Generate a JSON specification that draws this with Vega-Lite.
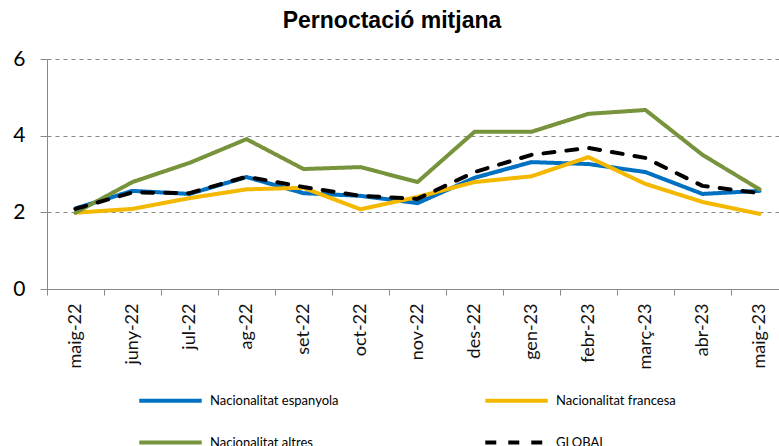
{
  "$schema": "https://vega.github.io/schema/vega-lite/v6.json",
  "width": 732,
  "height": 230,
  "autosize": "none",
  "padding": {"left": 47, "top": 59, "right": 0, "bottom": 157},
  "background": "white",
  "title": {"text": "Pernoctació mitjana", "font": "Liberation Sans", "fontSize": 23, "fontWeight": "bold", "color": "#000", "anchor": "middle", "frame": "group", "dx": -21, "offset": 15},
  "data": {"values": [
    {"mes": "maig-22", "serie": "Nacionalitat espanyola", "valor": 2.1},
    {"mes": "juny-22", "serie": "Nacionalitat espanyola", "valor": 2.56},
    {"mes": "jul-22", "serie": "Nacionalitat espanyola", "valor": 2.48},
    {"mes": "ag-22", "serie": "Nacionalitat espanyola", "valor": 2.92},
    {"mes": "set-22", "serie": "Nacionalitat espanyola", "valor": 2.5},
    {"mes": "oct-22", "serie": "Nacionalitat espanyola", "valor": 2.43},
    {"mes": "nov-22", "serie": "Nacionalitat espanyola", "valor": 2.24},
    {"mes": "des-22", "serie": "Nacionalitat espanyola", "valor": 2.9},
    {"mes": "gen-23", "serie": "Nacionalitat espanyola", "valor": 3.31},
    {"mes": "febr-23", "serie": "Nacionalitat espanyola", "valor": 3.26},
    {"mes": "març-23", "serie": "Nacionalitat espanyola", "valor": 3.05},
    {"mes": "abr-23", "serie": "Nacionalitat espanyola", "valor": 2.48},
    {"mes": "maig-23", "serie": "Nacionalitat espanyola", "valor": 2.56},
    {"mes": "maig-22", "serie": "Nacionalitat francesa", "valor": 1.99},
    {"mes": "juny-22", "serie": "Nacionalitat francesa", "valor": 2.09},
    {"mes": "jul-22", "serie": "Nacionalitat francesa", "valor": 2.37},
    {"mes": "ag-22", "serie": "Nacionalitat francesa", "valor": 2.6},
    {"mes": "set-22", "serie": "Nacionalitat francesa", "valor": 2.64},
    {"mes": "oct-22", "serie": "Nacionalitat francesa", "valor": 2.08},
    {"mes": "nov-22", "serie": "Nacionalitat francesa", "valor": 2.4},
    {"mes": "des-22", "serie": "Nacionalitat francesa", "valor": 2.79},
    {"mes": "gen-23", "serie": "Nacionalitat francesa", "valor": 2.94},
    {"mes": "febr-23", "serie": "Nacionalitat francesa", "valor": 3.44},
    {"mes": "març-23", "serie": "Nacionalitat francesa", "valor": 2.74},
    {"mes": "abr-23", "serie": "Nacionalitat francesa", "valor": 2.27},
    {"mes": "maig-23", "serie": "Nacionalitat francesa", "valor": 1.96},
    {"mes": "maig-22", "serie": "Nacionalitat altres", "valor": 1.99},
    {"mes": "juny-22", "serie": "Nacionalitat altres", "valor": 2.79},
    {"mes": "jul-22", "serie": "Nacionalitat altres", "valor": 3.29},
    {"mes": "ag-22", "serie": "Nacionalitat altres", "valor": 3.91},
    {"mes": "set-22", "serie": "Nacionalitat altres", "valor": 3.13},
    {"mes": "oct-22", "serie": "Nacionalitat altres", "valor": 3.18},
    {"mes": "nov-22", "serie": "Nacionalitat altres", "valor": 2.79},
    {"mes": "des-22", "serie": "Nacionalitat altres", "valor": 4.1},
    {"mes": "gen-23", "serie": "Nacionalitat altres", "valor": 4.1},
    {"mes": "febr-23", "serie": "Nacionalitat altres", "valor": 4.57},
    {"mes": "març-23", "serie": "Nacionalitat altres", "valor": 4.67},
    {"mes": "abr-23", "serie": "Nacionalitat altres", "valor": 3.5},
    {"mes": "maig-23", "serie": "Nacionalitat altres", "valor": 2.6},
    {"mes": "maig-22", "serie": "GLOBAL", "valor": 2.09},
    {"mes": "juny-22", "serie": "GLOBAL", "valor": 2.52},
    {"mes": "jul-22", "serie": "GLOBAL", "valor": 2.5},
    {"mes": "ag-22", "serie": "GLOBAL", "valor": 2.93},
    {"mes": "set-22", "serie": "GLOBAL", "valor": 2.66},
    {"mes": "oct-22", "serie": "GLOBAL", "valor": 2.43},
    {"mes": "nov-22", "serie": "GLOBAL", "valor": 2.35},
    {"mes": "des-22", "serie": "GLOBAL", "valor": 3.05},
    {"mes": "gen-23", "serie": "GLOBAL", "valor": 3.5},
    {"mes": "febr-23", "serie": "GLOBAL", "valor": 3.68},
    {"mes": "març-23", "serie": "GLOBAL", "valor": 3.42},
    {"mes": "abr-23", "serie": "GLOBAL", "valor": 2.69},
    {"mes": "maig-23", "serie": "GLOBAL", "valor": 2.5}
  ]},
  "mark": {"type": "line", "strokeWidth": 4, "strokeCap": "round", "strokeJoin": "round"},
  "encoding": {
    "x": {
      "field": "mes", "type": "nominal", "sort": null, "bandPosition": 0.5,
      "scale": {"type": "band", "range": [0, 741], "paddingInner": 0, "paddingOuter": 0},
      "axis": {"title": null, "tickBand": "extent", "labelAngle": -90, "labelAlign": "right", "labelBaseline": "middle", "labelFont": "Lato", "labelFontSize": 18, "labelColor": "#111", "labelPadding": 8, "tickSize": 6, "tickColor": "#888", "domainColor": "#888", "grid": false}
    },
    "y": {
      "field": "valor", "type": "quantitative",
      "scale": {"domain": [0, 6], "nice": false, "zero": true},
      "axis": {"title": null, "values": [0, 2, 4, 6], "labelFont": "Lato", "labelFontSize": 21, "labelColor": "#000", "labelPadding": 15, "tickSize": 7, "tickColor": "#888", "domainColor": "#888", "grid": true, "gridDash": [4, 4], "gridColor": "#888", "gridWidth": 1}
    },
    "color": {
      "field": "serie", "type": "nominal",
      "scale": {"domain": ["Nacionalitat espanyola", "Nacionalitat francesa", "Nacionalitat altres", "GLOBAL"], "range": ["#0070C0", "#F5B800", "#77933C", "#000000"]},
      "legend": {"title": null, "orient": "none", "direction": "horizontal", "legendX": 90, "legendY": 308, "columns": 2, "columnPadding": 138, "rowPadding": -50, "symbolType": "stroke", "symbolSize": 3900, "symbolStrokeWidth": 4, "labelFont": "Lato", "labelFontSize": 13, "labelColor": "#000", "labelOffset": 6}
    },
    "strokeDash": {
      "field": "serie", "type": "nominal",
      "scale": {"domain": ["Nacionalitat espanyola", "Nacionalitat francesa", "Nacionalitat altres", "GLOBAL"], "range": [[1, 0], [1, 0], [1, 0], [11, 12]]},
      "legend": {"title": null, "orient": "none", "direction": "horizontal", "legendX": 90, "legendY": 308, "columns": 2, "columnPadding": 138, "rowPadding": -50, "symbolType": "stroke", "symbolSize": 3900, "symbolStrokeWidth": 4, "labelFont": "Lato", "labelFontSize": 13, "labelColor": "#000", "labelOffset": 6}
    }
  },
  "config": {"view": {"stroke": null}}
}
